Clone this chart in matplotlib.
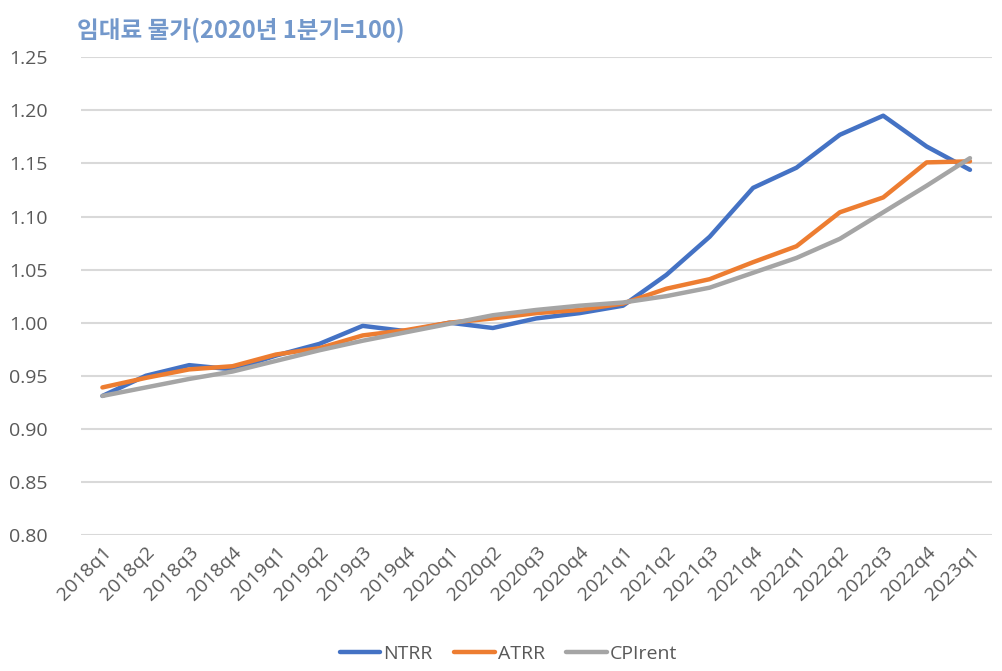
import matplotlib.pyplot as plt

# Data
quarters = ["2018q1", "2018q2", "2018q3", "2018q4",
            "2019q1", "2019q2", "2019q3", "2019q4",
            "2020q1", "2020q2", "2020q3", "2020q4",
            "2021q1", "2021q2", "2021q3", "2021q4",
            "2022q1", "2022q2", "2022q3", "2022q4",
            "2023q1"]

ntrr = [0.931, 0.950, 0.960, 0.956, 0.969, 0.980, 0.997, 0.992,
        1.000, 0.995, 1.004, 1.009, 1.016, 1.045, 1.081, 1.127,
        1.146, 1.177, 1.195, 1.166, 1.144]
atrr = [0.939, 0.948, 0.956, 0.959, 0.970, 0.976, 0.988, 0.993,
        1.000, 1.004, 1.009, 1.012, 1.018, 1.032, 1.041, 1.057,
        1.072, 1.104, 1.118, 1.151, 1.152]
cpi_rent = [0.931, 0.939, 0.947, 0.954, 0.964, 0.974, 0.983, 0.991,
            0.999, 1.007, 1.012, 1.016, 1.019, 1.025, 1.033, 1.047,
            1.061, 1.079, 1.104, 1.129, 1.155]

yticks = [0.80, 0.85, 0.90, 0.95, 1.00, 1.05, 1.10, 1.15, 1.20, 1.25]

plt.rcParams['font.family'] = ['Open Sans', 'Noto Sans CJK KR', 'DejaVu Sans']

fig = plt.figure(figsize=(10.03, 6.71), dpi=100)
ax = fig.add_axes([0.0805, 0.2027, 0.9082, 0.7119])

x = list(range(len(quarters)))
ax.plot(x, ntrr, color="#4472C4", lw=3.2, label="NTRR", solid_capstyle="round", zorder=3)
ax.plot(x, atrr, color="#ED7D31", lw=3.2, label="ATRR", solid_capstyle="round", zorder=4)
ax.plot(x, cpi_rent, color="#A5A5A5", lw=3.2, label="CPIrent", solid_capstyle="round", zorder=5)

ax.set_xlim(-0.5, len(quarters) - 0.5)
ax.set_ylim(0.80, 1.25)
ax.set_yticks(yticks)
ax.set_yticklabels([f"{v:.2f}" for v in yticks])
ax.set_xticks(x)
ax.set_xticklabels(quarters, rotation=45, ha="right", va="top", rotation_mode="anchor")

ax.grid(axis="y", color="#D9D9D9", lw=1.5)
ax.set_axisbelow(True)
for s in ax.spines.values():
    s.set_visible(False)
ax.tick_params(axis="both", length=0, labelsize=14, labelcolor="#595959")
ax.tick_params(axis="y", pad=24)
ax.tick_params(axis="x", pad=6)

fig.text(0.077, 0.954, "임대료 물가(2020년 1분기=100)", fontsize=17, fontweight="bold",
         color="#7398CB", family=['Noto Sans CJK KR', 'DejaVu Sans'], va="center")

leg = fig.legend(loc="center", bbox_to_anchor=(0.507, 0.026), ncol=3, frameon=False,
                 fontsize=14, handlelength=2.1, columnspacing=1.1, handletextpad=0.15)
for t in leg.get_texts():
    t.set_color("#595959")

fig.savefig("out.png", dpi=100)
